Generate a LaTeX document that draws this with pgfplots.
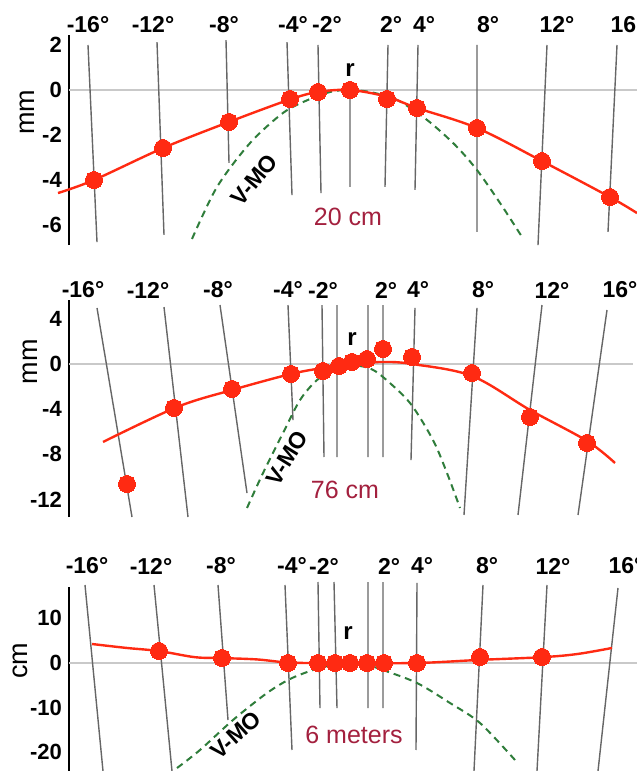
\documentclass[border=0pt]{standalone}
\usepackage{fontspec}
\setmainfont{Liberation Sans}
\usepackage{pgfplots}
\pgfplotsset{compat=1.18}

\definecolor{dotred}{HTML}{FF2A12}
\definecolor{vmo}{HTML}{2F7D3B}
\definecolor{dist}{HTML}{A3203E}
\definecolor{rule}{HTML}{666666}
\definecolor{zero}{HTML}{C9C9C9}

\pgfplotsset{
  panel/.style={
    scale only axis, width=568pt, xmin=69, xmax=637,
    clip=false, anchor=north west,
    axis x line=none, axis y line*=left,
    axis line style={-, line width=2.6pt, black},
    major tick length=0pt,
    yticklabel style={font=\fontsize{22}{22}\selectfont\bfseries,
      inner sep=0pt, anchor=east, xshift=-7pt},
  },
  rules/.style={color=rule, line width=1.4pt, unbounded coords=jump, forget plot},
  zeroline/.style={color=zero, line width=1.8pt, forget plot},
  vmoline/.style={color=vmo, line width=2pt, dash pattern=on 7pt off 5pt, smooth, tension=0.5},
  redfit/.style={color=dotred, line width=2.4pt, smooth, tension=0.55},
  dots/.style={only marks, color=dotred, mark=*, mark size=8.5pt,
    mark options={draw=dotred, fill=dotred, line width=0pt}},
}
\tikzset{
  deg/.style={font=\fontsize{23}{23}\selectfont\bfseries},
  rlab/.style={font=\fontsize{24}{24}\selectfont\bfseries},
  vlab/.style={font=\fontsize{23}{23}\selectfont\bfseries},
  dlab/.style={font=\fontsize{25}{25}\selectfont, text=dist},
  unit/.style={font=\fontsize{27}{27}\selectfont, rotate=90},
}

\begin{document}
\begin{tikzpicture}
\useasboundingbox (0,0) rectangle (637pt,-771pt);

% ---------- 20 cm ----------
\begin{axis}[panel, at={(69pt,-35pt)}, height=210pt,
  ymin=-6.889, ymax=2.444,
  ytick={-6,-4,-2,0,2}, yticklabels={-6,-4,-2,0,2}]
\addplot[zeroline] coordinates {(69,0) (637,0)};
\addplot[rules] coordinates {
  (88,2.0) (97,-6.76) (nan,nan)
  (157,2.13) (164,-6.44) (nan,nan)
  (226,2.22) (229,-3.24) (nan,nan)
  (287,2.13) (292,-4.67) (nan,nan)
  (318,2.0) (321,-4.58) (nan,nan)
  (350,-0.1) (350,-4.31) (nan,nan)
  (388,2.0) (385,-4.31) (nan,nan)
  (418,2.0) (415,-4.44) (nan,nan)
  (477,2.0) (477,-6.31) (nan,nan)
  (547,2.0) (538,-6.89) (nan,nan)
  (617,2.0) (608,-6.31)};
\addplot[vmoline] coordinates {
  (192,-6.62) (217,-4.31) (250,-2.36) (283,-1.02) (308,-0.44)
  (330,-0.09) (348,0) (370,-0.09) (397,-0.44) (427,-1.33)
  (455,-2.44) (477,-3.56) (500,-5.02) (522,-6.53)};
\addplot[redfit] coordinates {
  (58,-4.58) (94,-4.0) (163,-2.58) (229,-1.42) (290,-0.42) (318,-0.09)
  (350,0) (387,-0.3) (417,-0.8) (477,-1.69) (542,-3.16) (610,-4.76) (637,-5.47)};
\addplot[dots] coordinates {
  (94,-4.0) (163,-2.58) (229,-1.42) (290,-0.40) (318,-0.09) (350,0)
  (387,-0.40) (417,-0.80) (477,-1.69) (542,-3.16) (610,-4.76)};
\node[deg] at (axis cs:88,2.89) {-16°};
\node[deg] at (axis cs:153,2.89) {-12°};
\node[deg] at (axis cs:224,2.89) {-8°};
\node[deg] at (axis cs:293,2.89) {-4°};
\node[deg] at (axis cs:327,2.89) {-2°};
\node[deg] at (axis cs:391,2.89) {2°};
\node[deg] at (axis cs:424,2.89) {4°};
\node[deg] at (axis cs:488,2.89) {8°};
\node[deg] at (axis cs:557,2.89) {12°};
\node[deg] at (axis cs:628,2.89) {16°};
\node[rlab] at (axis cs:350,0.89) {r};
\node[vlab, rotate=50] at (axis cs:254,-4.0) {V-MO};
\node[dlab] at (axis cs:348,-5.64) {20 cm};
\node[unit] at (axis cs:27,-1.0) {mm};
\end{axis}

% ---------- 76 cm ----------
\begin{axis}[panel, at={(69pt,-300pt)}, height=217pt,
  ymin=-13.54, ymax=5.664,
  ytick={-12,-8,-4,0,4}, yticklabels={-12,-8,-4,0,4}]
\addplot[zeroline] coordinates {(69,0) (633,0)};
\addplot[rules] coordinates {
  (97,4.96) (132,-13.54) (nan,nan)
  (164,5.04) (188,-13.54) (nan,nan)
  (220,5.22) (247,-11.42) (nan,nan)
  (288,5.22) (293,-4.96) (nan,nan)
  (322,5.22) (324,-8.23) (nan,nan)
  (337,5.22) (337,-8.23) (nan,nan)
  (368,5.22) (368,-8.23) (nan,nan)
  (383,5.22) (383,-8.23) (nan,nan)
  (415,4.96) (411,-8.50) (nan,nan)
  (477,4.96) (464,-13.36) (nan,nan)
  (542,5.22) (518,-13.36) (nan,nan)
  (607,4.78) (578,-13.36)};
\addplot[vmoline] coordinates {
  (247,-12.74) (263,-9.65) (283,-6.11) (300,-3.19) (317,-1.42)
  (335,-0.5) (355,-0.15) (370,-0.4) (383,-1.15) (410,-3.45)
  (433,-6.73) (447,-9.65) (460,-12.74)};
\addplot[redfit] coordinates {
  (103,-6.90) (177,-3.81) (232,-2.30) (291,-0.88) (323,-0.35) (350,0)
  (383,0.18) (412,0) (472,-1.06) (530,-4.07) (587,-6.81) (615,-8.76)};
\addplot[dots] coordinates {
  (127,-10.62) (174,-3.89) (232,-2.21) (291,-0.88) (323,-0.62) (339,-0.18)
  (352,0.18) (367,0.44) (383,1.33) (412,0.62) (472,-0.80) (530,-4.69) (587,-6.99)};
\node[deg] at (axis cs:83,6.55) {-16°};
\node[deg] at (axis cs:148,6.55) {-12°};
\node[deg] at (axis cs:218,6.55) {-8°};
\node[deg] at (axis cs:288,6.55) {-4°};
\node[deg] at (axis cs:323,6.55) {-2°};
\node[deg] at (axis cs:386,6.55) {2°};
\node[deg] at (axis cs:418,6.55) {4°};
\node[deg] at (axis cs:483,6.55) {8°};
\node[deg] at (axis cs:552,6.55) {12°};
\node[deg] at (axis cs:620,6.55) {16°};
\node[rlab] at (axis cs:352,2.21) {r};
\node[vlab, rotate=58] at (axis cs:287,-8.32) {V-MO};
\node[dlab] at (axis cs:345,-11.15) {76 cm};
\node[unit] at (axis cs:30,0.18) {mm};
\end{axis}

% ---------- 6 meters ----------
\begin{axis}[panel, at={(69pt,-587pt)}, height=184pt,
  ymin=-24.16, ymax=17.0,
  ytick={-20,-10,0,10}, yticklabels={-20,-10,0,10}]
\addplot[zeroline] coordinates {(69,0) (637,0)};
\addplot[rules] coordinates {
  (85,17.45) (103,-24.16) (nan,nan)
  (154,17.45) (172,-24.16) (nan,nan)
  (218,17.45) (228,-12.75) (nan,nan)
  (285,17.45) (292,-19.46) (nan,nan)
  (318,18.12) (320,-10.07) (nan,nan)
  (334,18.12) (337,-10.07) (nan,nan)
  (368,18.12) (368,-10.07) (nan,nan)
  (383,18.12) (383,-10.07) (nan,nan)
  (417,17.9) (416,-19.46) (nan,nan)
  (483,17.45) (474,-24.16) (nan,nan)
  (547,17.45) (537,-24.16) (nan,nan)
  (618,16.78) (598,-24.16)};
\addplot[vmoline] coordinates {
  (177,-23.5) (200,-19.46) (233,-12.75) (267,-6.71) (290,-3.58)
  (313,-1.57) (335,-0.3) (350,0) (365,-0.3) (383,-1.57)
  (417,-4.47) (450,-8.95) (480,-13.42) (515,-21.7)};
\addplot[redfit] coordinates {
  (92,4.25) (127,3.36) (159,2.68) (195,1.3) (222,1.1) (257,0.8) (288,0.1)
  (320,0) (350,0) (417,0) (480,0.7) (542,1.3) (577,2.0) (612,3.36)};
\addplot[dots] coordinates {
  (159,2.68) (222,1.12) (288,0) (318,0) (335,0) (350,0) (367,0) (384,0)
  (417,0) (480,1.34) (542,1.34)};
\node[deg] at (axis cs:87,21.7) {-16°};
\node[deg] at (axis cs:151,21.7) {-12°};
\node[deg] at (axis cs:221,21.7) {-8°};
\node[deg] at (axis cs:292,21.7) {-4°};
\node[deg] at (axis cs:324,21.7) {-2°};
\node[deg] at (axis cs:389,21.7) {2°};
\node[deg] at (axis cs:422,21.7) {4°};
\node[deg] at (axis cs:487,21.7) {8°};
\node[deg] at (axis cs:553,21.7) {12°};
\node[deg] at (axis cs:626,21.7) {16°};
\node[rlab] at (axis cs:348,6.7) {r};
\node[vlab, rotate=42] at (axis cs:236,-16.1) {V-MO};
\node[dlab] at (axis cs:354,-16.1) {6 meters};
\node[unit] at (axis cs:20,0.45) {cm};
\end{axis}
\end{tikzpicture}
\end{document}
